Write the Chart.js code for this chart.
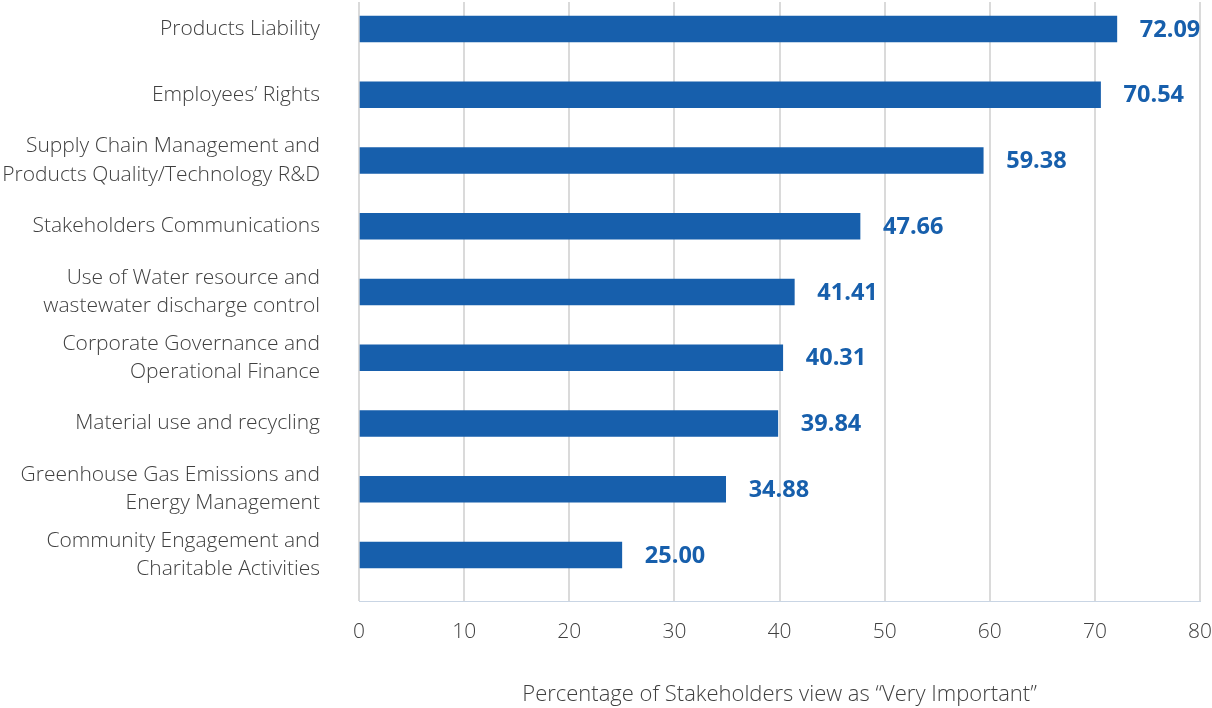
<!DOCTYPE html>
<html>
<head>
<meta charset="utf-8">
<script src="https://cdn.jsdelivr.net/npm/chart.js@4"></script>
<style>
	html, body { margin: 0; padding: 0; background: #fff; }
	#wrap { width: 1212px; height: 708px; }
</style>
</head>
<body>
<div id="wrap"><canvas id="myChart"></canvas></div>
<script>
// data
const categories = [
	['Products Liability'],
	['Employees\u2019 Rights'],
	['Supply Chain Management and', 'Products Quality/Technology R&D'],
	['Stakeholders Communications'],
	['Use of Water resource and', 'wastewater discharge control'],
	['Corporate Governance and', 'Operational Finance'],
	['Material use and recycling'],
	['Greenhouse Gas Emissions and', 'Energy Management'],
	['Community Engagement and', 'Charitable Activities']
];
const values = [72.09, 70.54, 59.38, 47.66, 41.41, 40.31, 39.84, 34.88, 25.00];
const xTicks = [0, 10, 20, 30, 40, 50, 60, 70, 80];
const xTitle = 'Percentage of Stakeholders view as \u201cVery Important\u201d';

const blue = '#175fac';
const textGrey = '#404040';

// value labels at the end of each bar
const barLabels = {
	id: 'barLabels',
	afterDatasetsDraw(chart) {
		const ctx = chart.ctx;
		const meta = chart.getDatasetMeta(0);
		ctx.save();
		ctx.font = 'bold 23.5px "Open Sans"';
		ctx.fillStyle = blue;
		ctx.textAlign = 'left';
		ctx.textBaseline = 'middle';
		meta.data.forEach(function(bar, i) {
			ctx.fillText(values[i].toFixed(2), bar.x + 23, bar.y + 1);
		});
		ctx.restore();
	}
};

const data = {
	datasets: [{
		data: values.map((v, i) => ({ x: v, y: i })),
		backgroundColor: blue,
		barThickness: 26
	}]
};

const config = {
	type: 'bar',
	data,
	options: {
		indexAxis: 'y',
		responsive: true,
		maintainAspectRatio: false,
		animation: false,
		layout: { padding: { top: 2, right: 12, left: 0, bottom: 0 } },
		plugins: {
			legend: { display: false },
			tooltip: { enabled: false }
		},
		scales: {
			x: {
				type: 'linear',
				min: 0,
				max: 80,
				afterBuildTicks: s => { s.ticks = xTicks.map(v => ({ value: v })); },
				afterFit: s => { s.height = 107; s.paddingLeft = 0; s.paddingRight = 0; },
				grid: { color: '#dadada', lineWidth: 2, drawTicks: false },
				border: { color: '#c9d5e4', width: 1 },
				ticks: {
					color: textGrey,
					font: { family: 'Open Sans', size: 21, weight: 300 },
					padding: 18
				},
				title: {
					display: true,
					text: xTitle,
					color: textGrey,
					font: { family: 'Open Sans', size: 22, weight: 300 },
					padding: { top: 26, bottom: 0 }
				}
			},
			y: {
				type: 'linear',
				reverse: true,
				offset: false,
				min: -0.41,
				max: 8.70,
				afterBuildTicks: s => { s.ticks = categories.map((c, i) => ({ value: i })); },
				afterFit: s => { s.width = 359; s.paddingTop = 0; s.paddingBottom = 0; },
				grid: { display: false },
				border: { display: false },
				ticks: {
					autoSkip: false,
					color: textGrey,
					font: { family: 'Open Sans', size: 21, weight: 300, lineHeight: 1.34 },
					padding: 31,
					callback: (v) => categories[v]
				}
			}
		}
	},
	plugins: [barLabels]
};

const myChart = new Chart(document.getElementById('myChart'), config);
</script>
</body>
</html>
